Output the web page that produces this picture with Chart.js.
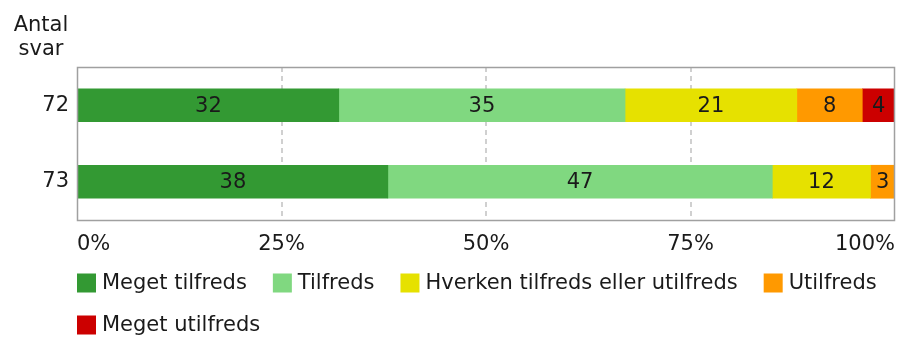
<!DOCTYPE html>
<html>
<head>
<meta charset="utf-8">
<script src="https://cdn.jsdelivr.net/npm/chart.js@4/dist/chart.umd.min.js"></script>
<style>
    html, body { margin: 0; padding: 0; background: #fff; }
    #chart { display: block; }
</style>
</head>
<body>
<canvas id="chart" width="899" height="337"></canvas>
<script>
// 数据
const categories = ['72', '73'];
const seriesNames = ['Meget tilfreds', 'Tilfreds', 'Hverken tilfreds eller utilfreds', 'Utilfreds', 'Meget utilfreds'];
const megetTilfreds = [32, 38];
const tilfreds = [35, 47];
const hverken = [21, 12];
const utilfreds = [8, 3];
const megetUtilfreds = [4, null];
const xTicks = [0, 25, 50, 75, 100];
const colors = ['#339933', '#80d880', '#e6e100', '#ff9900', '#cc0000'];

const FONT = 'DejaVu Sans, Verdana, sans-serif';
const FONT_SIZE = 21;
const TEXT_COLOR = '#1a1a1a';

const seriesValues = [megetTilfreds, tilfreds, hverken, utilfreds, megetUtilfreds];

// 段内数值标签
const valueLabels = {
    id: 'valueLabels',
    afterDatasetsDraw(chart) {
        const ctx = chart.ctx;
        ctx.save();
        ctx.font = `${FONT_SIZE}px ${FONT}`;
        ctx.fillStyle = TEXT_COLOR;
        ctx.textAlign = 'center';
        ctx.textBaseline = 'middle';
        chart.data.datasets.forEach((ds, i) => {
            chart.getDatasetMeta(i).data.forEach((bar, j) => {
                const v = ds.data[j];
                if (!v) return;
                const cx = (bar.x + bar.base) / 2;
                ctx.fillText(String(v), cx, bar.y + 1);
            });
        });
        ctx.restore();
    }
};

// 外框 + 左上角标题 + 图例
const frameAndLegend = {
    id: 'frameAndLegend',
    afterDraw(chart) {
        const { ctx, chartArea: a } = chart;
        ctx.save();
        ctx.strokeStyle = '#a0a0a0';
        ctx.lineWidth = 1.5;
        ctx.strokeRect(a.left + 0.5, a.top + 0.5, a.right - a.left - 1, a.bottom - a.top);

        ctx.font = `${FONT_SIZE}px ${FONT}`;
        ctx.fillStyle = TEXT_COLOR;
        ctx.textAlign = 'center';
        ctx.textBaseline = 'alphabetic';
        ctx.fillText('Antal', 41, 31);
        ctx.fillText('svar', 41, 55);

        // 图例，两行
        const rows = [[0, 1, 2, 3], [4]];
        const rowY = [a.bottom + 63, a.bottom + 105];
        ctx.textAlign = 'left';
        ctx.textBaseline = 'middle';
        rows.forEach((row, r) => {
            let x = a.left;
            row.forEach(i => {
                const ds = chart.data.datasets[i];
                ctx.fillStyle = ds.backgroundColor;
                ctx.fillRect(x, rowY[r] - 9.5, 19, 19);
                ctx.fillStyle = TEXT_COLOR;
                ctx.fillText(ds.label, x + 25, rowY[r] + 1);
                x += 25 + ctx.measureText(ds.label).width + 26;
            });
        });
        ctx.restore();
    }
};

new Chart(document.getElementById('chart'), {
    type: 'bar',
    data: {
        labels: categories,
        datasets: seriesNames.map((name, i) => ({
            label: name,
            data: seriesValues[i],
            backgroundColor: colors[i],
            borderWidth: 0,
            barThickness: 33
        }))
    },
    options: {
        indexAxis: 'y',
        responsive: false,
        animation: false,
        layout: { padding: { top: 67, right: 4, bottom: 77, left: 0 } },
        plugins: {
            legend: { display: false },
            tooltip: { enabled: false }
        },
        scales: {
            x: {
                stacked: true,
                min: 0,
                max: 100,
                afterBuildTicks: (scale) => { scale.ticks = xTicks.map(v => ({ value: v })); },
                afterFit: (scale) => {
                    scale.height = 40;
                    scale.paddingLeft = 0;
                    scale.paddingRight = 0;
                },
                border: { display: false, dash: [5, 4] },
                grid: {
                    drawTicks: false,
                    color: (c) => (c.index === 0 || c.index === xTicks.length - 1) ? 'rgba(0,0,0,0)' : '#d0d0d0',
                    lineWidth: 2
                },
                ticks: {
                    align: 'inner',
                    padding: 12,
                    color: TEXT_COLOR,
                    font: { family: FONT, size: FONT_SIZE },
                    callback: (v) => v + '%'
                }
            },
            y: {
                stacked: true,
                afterFit: (scale) => {
                    scale.width = 77;
                    scale.paddingTop = 0;
                    scale.paddingBottom = 0;
                },
                border: { display: false },
                grid: { display: false, drawTicks: false },
                ticks: {
                    padding: 8,
                    color: TEXT_COLOR,
                    font: { family: FONT, size: FONT_SIZE }
                }
            }
        }
    },
    plugins: [valueLabels, frameAndLegend]
});
</script>
</body>
</html>
